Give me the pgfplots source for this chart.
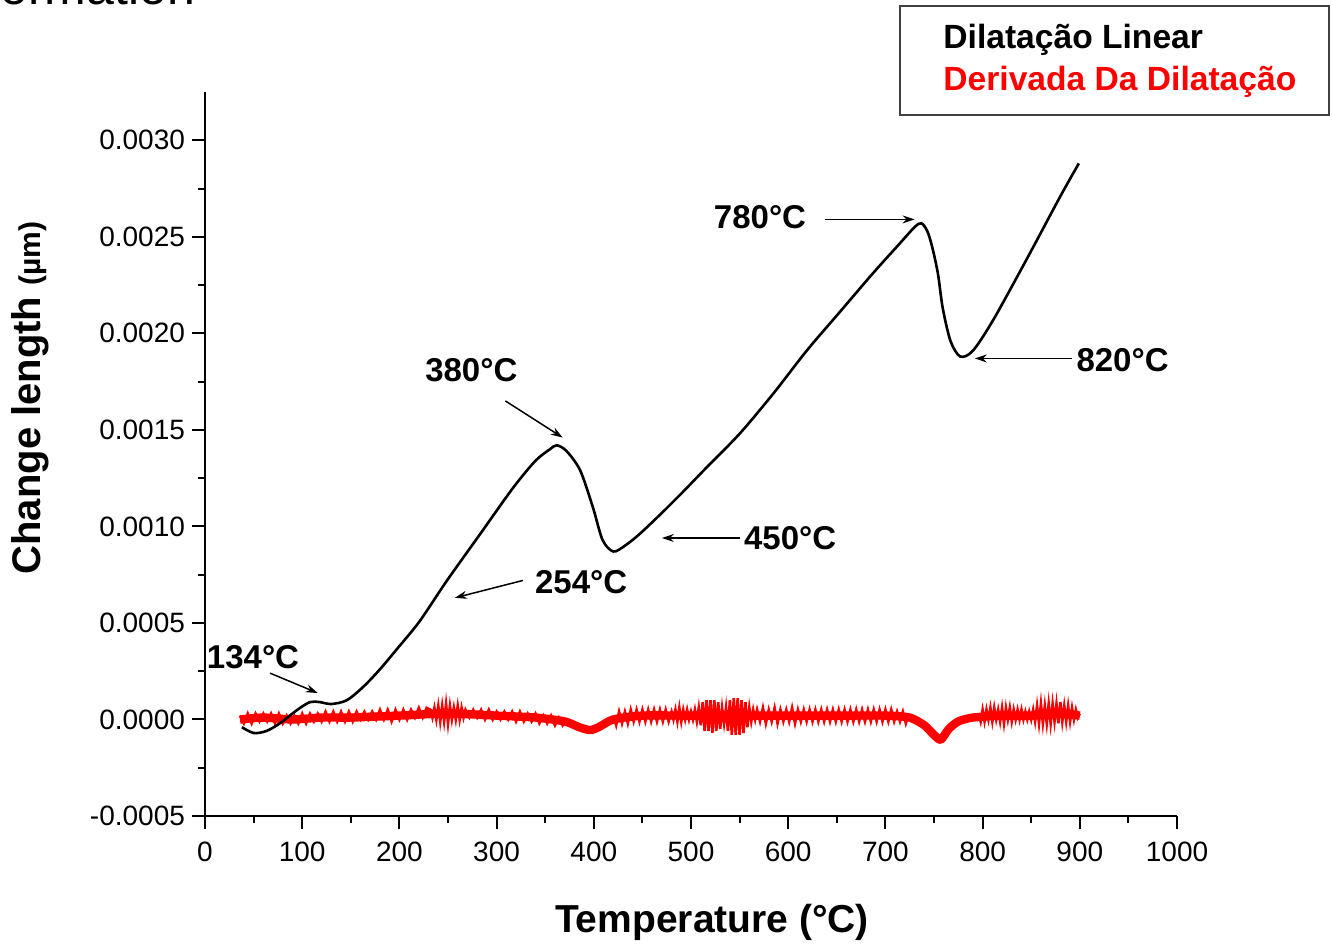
\documentclass[border=0pt]{standalone}
\usepackage{fontspec}
\setmainfont{Liberation Sans}
\usepackage{pgfplots}
\pgfplotsset{compat=1.18}
\usetikzlibrary{arrows.meta}
\definecolor{dred}{RGB}{255,0,0}
\begin{document}
\begin{tikzpicture}
\useasboundingbox (-102.5pt,-64pt) rectangle (563.5pt,408pt);
\begin{axis}[
  at={(0pt,0pt)}, anchor=south west,
  scale only axis, width=486pt, height=362pt,
  xmin=0, xmax=1000, ymin=-0.0005, ymax=0.00325,
  axis x line=bottom, axis y line=left,
  axis line style={-, line width=1pt},
  tick align=outside,
  major tick length=6.5pt, minor tick length=3.5pt,
  every tick/.style={black, line width=1pt},
  xtick={0,100,...,1000},
  ytick={-0.0005,0,0.0005,0.001,0.0015,0.002,0.0025,0.003},
  minor x tick num=1, minor y tick num=1,
  scaled y ticks=false,
  ticklabel style={font=\fontsize{14}{16}\selectfont},
  xticklabel style={/pgf/number format/.cd, assume math mode=true, 1000 sep={}, /tikz/.cd, yshift=-3pt},
  yticklabel style={/pgf/number format/.cd, fixed, fixed zerofill, precision=4, assume math mode=true},
  clip=false,
]
% red derivative, base band
\addplot[dred, line width=4.2pt, line join=round, smooth, tension=0.4] coordinates {
(36,0.00000) (60,0.00001) (90,0.00000) (120,0.00001) (150,0.00001) (200,0.00002)
(240,0.00003) (260,0.00003) (300,0.00002) (340,0.00001) (370,-0.00001) (385,-0.00004)
(396,-0.000055) (405,-0.00004) (420,0.00000) (450,0.00002) (500,0.00002) (560,0.00002)
(600,0.00002) (650,0.00002) (700,0.00002) (725,0.00001) (740,-0.00003) (750,-0.00008)
(757,-0.000105) (765,-0.00005) (775,-0.00001) (790,0.00001) (820,0.00002) (850,0.00002)
(880,0.00003) (900,0.00002)
};
% red noise
\addplot[dred, line width=1.3pt] coordinates {
(36,0.00002) (40,-0.00002) (44,0.00003) (48,-0.00002) (52,0.00003) (56,-0.00001)
(60,0.00003) (64,-0.00001) (68,0.00003) (72,-0.00002) (76,0.00003) (80,-0.00002)
(84,0.00002) (88,-0.00002) (92,0.00002) (96,-0.00002) (100,0.00003) (104,-0.00002)
(108,0.00003) (112,-0.00001) (116,0.00003) (120,-0.00001) (124,0.00004) (128,-0.00001)
(132,0.00004) (136,-0.00001) (140,0.00004) (144,-0.00001) (148,0.00004) (152,-0.00001)
(156,0.00004) (160,0.00000) (164,0.00004) (168,0.00000) (172,0.00004) (176,0.00000)
(180,0.00005) (184,0.00000) (188,0.00005) (192,-0.00001) (196,0.00005) (200,0.00000)
(204,0.00005) (208,0.00000) (212,0.00005) (216,0.00001) (220,0.00006) (224,0.00001)
(228,0.00006)
(232,0.00005) (234,0.00001) (236,0.00006) (238,0.00000) (240,0.00007) (242,-0.00001)
(244,0.00007) (246,-0.00001) (248,0.00008) (250,-0.00002) (252,0.00007) (254,0.00000)
(256,0.00006) (258,0.00000) (260,0.00007) (262,0.00000) (264,0.00006) (266,0.00001)
(268,0.00005) (272,0.00001) (276,0.00005) (280,0.00001) (284,0.00005) (288,0.00000)
(292,0.00005) (296,0.00000) (300,0.00004) (304,0.00000) (308,0.00004) (312,0.00000)
(316,0.00004) (320,-0.00001) (324,0.00004) (328,-0.00001) (332,0.00003) (336,-0.00001)
(340,0.00003) (344,-0.00002) (348,0.00002) (352,-0.00002) (356,0.00002) (360,-0.00003)
(364,0.00001) (368,-0.00003) (372,0.00000)
};
\addplot[dred, line width=1.3pt] coordinates {
(420,0.00002) (423,-0.00003) (426,0.00004) (429,-0.00002) (432,0.00004) (435,-0.00002)
(438,0.00005) (441,-0.00001) (444,0.00005) (447,-0.00001) (450,0.00005) (453,-0.00001)
(456,0.00005) (459,-0.00001) (462,0.00005) (465,-0.00001) (468,0.00005) (471,-0.00001)
(474,0.00005) (477,-0.00001)
(480,0.00004) (482,0.00000) (484,0.00005) (486,-0.00001) (488,0.00006) (490,-0.00001)
(492,0.00005) (494,0.00000) (496,0.00005) (498,0.00000)
(500,0.00004) (502,0.00000) (504,0.00005) (506,-0.00001) (508,0.00006) (510,-0.00003)
(512,0.00009) (514,-0.00006) (516,0.00010) (518,-0.00006) (520,0.00010) (522,-0.00007)
(524,0.00010) (526,-0.00006) (528,0.00009) (530,-0.00005) (532,0.00006) (534,-0.00002)
(536,0.00006) (538,-0.00006) (540,0.00010) (542,-0.00008) (544,0.00011) (546,-0.00008)
(548,0.00011) (550,-0.00008) (552,0.00010) (554,-0.00007) (556,0.00009) (558,-0.00004)
(560,0.00006) (562,-0.00001) (564,0.00005) (566,0.00000)
(568,0.00005) (571,-0.00001) (574,0.00006) (577,-0.00002) (580,0.00005) (583,-0.00001)
(586,0.00006) (589,-0.00002) (592,0.00005) (595,-0.00001) (598,0.00005) (601,-0.00001)
(604,0.00006) (607,-0.00002) (610,0.00005) (613,-0.00001) (616,0.00005) (619,-0.00001)
(622,0.00005) (625,-0.00001) (628,0.00005) (631,-0.00001) (634,0.00005) (637,-0.00001)
(640,0.00005) (643,-0.00001) (646,0.00005) (649,-0.00001) (652,0.00005) (655,-0.00001)
(658,0.00005) (661,-0.00001) (664,0.00005) (667,-0.00001) (670,0.00005) (673,-0.00001)
(676,0.00005) (679,-0.00001) (682,0.00005) (685,-0.00001) (688,0.00005) (691,-0.00001)
(694,0.00005) (697,-0.00001) (700,0.00005) (703,-0.00001) (706,0.00005) (709,-0.00001)
(712,0.00004) (715,-0.00001) (718,0.00004) (721,-0.00002) (724,0.00003)
};
\addplot[dred, line width=1.3pt] coordinates {
(796,0.00003) (798,-0.00001) (800,0.00005) (802,-0.00001) (804,0.00005) (806,0.00000)
(808,0.00006) (810,-0.00001) (812,0.00006) (814,0.00000) (816,0.00005) (818,-0.00001)
(820,0.00006) (822,-0.00002) (824,0.00006) (826,0.00000) (828,0.00006) (830,-0.00001)
(832,0.00005) (834,0.00000) (836,0.00005) (838,0.00000) (840,0.00005) (842,0.00000)
(844,0.00004) (846,0.00000) (848,0.00004) (850,0.00000) (852,0.00005) (854,-0.00001)
(856,0.00007) (858,-0.00002) (860,0.00008) (862,-0.00002) (864,0.00007) (866,-0.00002)
(868,0.00008) (870,-0.00002) (872,0.00008) (874,-0.00001) (876,0.00008) (878,-0.00002)
(880,0.00009) (882,-0.00001) (884,0.00007) (886,-0.00001) (888,0.00007) (890,-0.00001)
(892,0.00006) (894,0.00000) (896,0.00005) (898,0.00001) (900,0.00003)
};
% black dilatation curve
\addplot[black, line width=1.3pt, smooth, tension=0.5] coordinates {
(38,-0.00004) (50,-0.00007) (63,-0.00006) (77,-0.00002) (95,0.00005) (108,0.00009)
(118,0.00009) (130,0.00008) (146,0.0001) (163,0.00017) (180,0.00026) (200,0.00038)
(221,0.00051) (249,0.00072) (283,0.00096) (317,0.0012) (340,0.00134) (355,0.0014)
(362,0.00142) (372,0.00139) (386,0.00129) (399,0.0011) (409,0.00093) (420,0.00087)
(432,0.0009) (447,0.00096) (468,0.00106) (490,0.00117) (515,0.0013) (550,0.00148)
(585,0.00169) (619,0.00191) (653,0.00211) (687,0.00231) (712,0.00245) (730,0.00255)
(737,0.00257) (743,0.00253) (748,0.00245) (754,0.00231) (759,0.00213) (767,0.00196)
(777,0.00188) (790,0.00191) (811,0.00207) (846,0.00239) (880,0.00271) (899,0.00288)
};
% annotations
\tikzset{ann/.style={font=\bfseries\fontsize{16.5}{19}\selectfont, inner sep=0pt},
         arr/.style={-{Stealth[length=6pt,width=4pt]}, line width=0.75pt}}
\node[ann] at (axis cs:49.4,0.000323) {134°C};
\draw[arr] (axis cs:66.9,0.00024) -- (axis cs:116,0.000137);
\node[ann] at (axis cs:387,0.00071) {254°C};
\draw[arr] (axis cs:327,0.00072) -- (axis cs:257,0.00063);
\node[ann] at (axis cs:274,0.00181) {380°C};
\draw[arr] (axis cs:309,0.00165) -- (axis cs:368,0.00146);
\node[ann] at (axis cs:602,0.00094) {450°C};
\draw[arr] (axis cs:550,0.00094) -- (axis cs:470,0.00094);
\node[ann] at (axis cs:571,0.0026) {780°C};
\draw[arr] (axis cs:638,0.00259) -- (axis cs:730,0.00259);
\node[ann] at (axis cs:944,0.00186) {820°C};
\draw[arr] (axis cs:892,0.00187) -- (axis cs:792,0.00187);
\end{axis}
% legend box
\draw[line width=0.75pt, black!75] (347.5pt,405pt) rectangle (562pt,350.5pt);
\node[anchor=west, inner sep=0pt, font=\bfseries\fontsize{16.8}{19}\selectfont] at (369pt,388pt) {Dilatação Linear};
\node[anchor=west, inner sep=0pt, font=\bfseries\fontsize{16.8}{19}\selectfont, text=dred] at (369pt,367pt) {Derivada Da Dilatação};
% axis titles
\node[font=\bfseries\fontsize{19.5}{22}\selectfont] at (253.5pt,-53pt) {Temperature (°C)};
\node[rotate=90, font=\bfseries\fontsize{20}{22}\selectfont] at (-87.5pt,209pt) {Change length {\fontsize{15}{17}\selectfont (µm)}};
% cut-off title fragment
\node[anchor=base west, inner sep=0pt, font=\fontsize{25}{28}\selectfont] at (-102.5pt,405.5pt) {ormation};
\end{tikzpicture}
\end{document}
